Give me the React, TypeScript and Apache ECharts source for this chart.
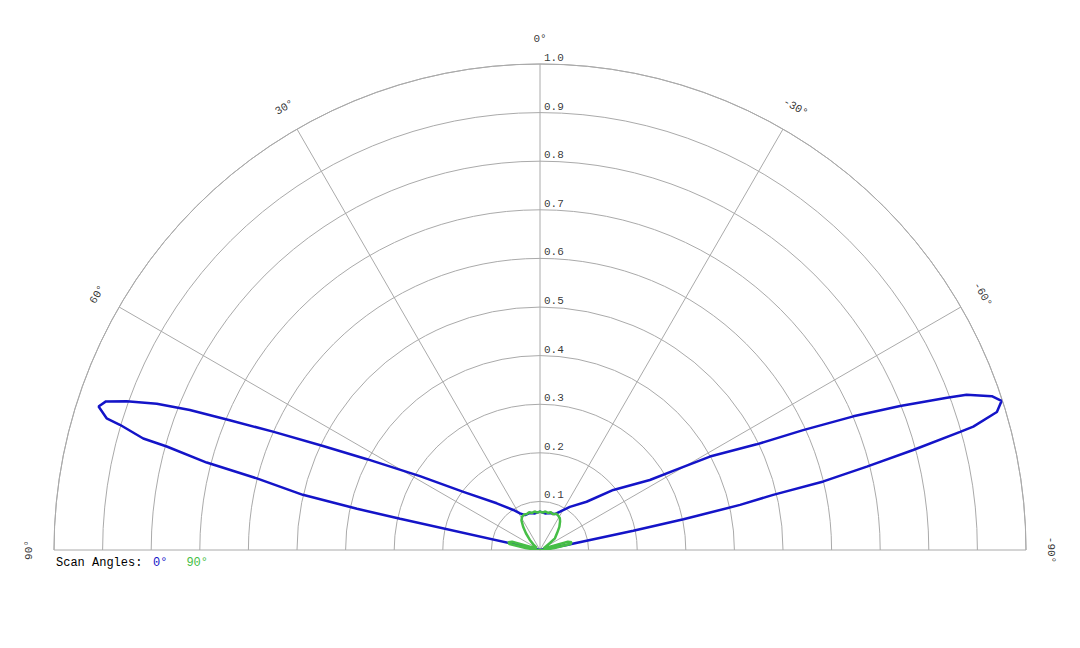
import * as echarts from 'echarts';
import React, { useEffect, useRef } from 'react';

// scan angle 0° (blue) : polar angle in degrees (positive = left) and normalised gain
const scan0Angles = [
  -90, -80, -79.4, -78.3, -77.9, -77.3, -76.7, -76.4, -75.7, -75.0, -74.3, -74.1, -73.2,
  -72.1, -71.2, -70.0, -69.5, -68.2, -66.9, -65.5, -64.0, -61.2, -59.7, -57.5, -50.7,
  -44.0, -34.7, -27.6, -22.6, -15, -7.8, 0, 7.8, 15, 23.2, 28.6, 33.7, 42.8, 52.8, 58.4,
  62.3, 64.4, 66.1, 67.3, 68.2, 69.1, 70.2, 71.1, 72.0, 73.1, 73.4, 74.3, 74.5, 75.3,
  75.8, 76.9, 77.3, 77.4, 78, 90,
];
const scan0Values = [
  0, 0, 0.056, 0.196, 0.302, 0.422, 0.493, 0.6, 0.694, 0.795, 0.898, 0.927, 0.982, 0.998,
  0.982, 0.934, 0.894, 0.798, 0.701, 0.595, 0.496, 0.399, 0.334, 0.268, 0.195, 0.138,
  0.108, 0.089, 0.08, 0.079, 0.076, 0.079, 0.076, 0.079, 0.078, 0.086, 0.099, 0.131,
  0.198, 0.29, 0.402, 0.495, 0.601, 0.692, 0.776, 0.844, 0.904, 0.944, 0.955, 0.932,
  0.902, 0.848, 0.797, 0.709, 0.601, 0.501, 0.386, 0.295, 0, 0,
];

// scan angle 90° (green)
const scan90Angles = [
  -90, -86, -82, -79, -76, -73.5, -71, -66, -60, -55, -52, -45, -40, -35, -32, -28, -24,
  -20, -16, -12, -8, -4, 0, 4, 8, 12, 16, 20, 24, 28, 32, 36, 40, 45, 50, 56, 62, 66, 71,
  73.5, 76, 79, 82, 86, 90,
];
const scan90Values = [
  0, 0.01, 0.03, 0.064, 0.067, 0.06, 0.02, 0.008, 0.008, 0.025, 0.039, 0.05, 0.062, 0.072,
  0.077, 0.08, 0.082, 0.078, 0.081, 0.078, 0.08, 0.077, 0.079, 0.077, 0.08, 0.078, 0.081,
  0.079, 0.08, 0.078, 0.072, 0.059, 0.045, 0.03, 0.018, 0.008, 0.008, 0.008, 0.02, 0.06,
  0.067, 0.064, 0.03, 0.01, 0,
];

const radiusTicks = [0.1, 0.2, 0.3, 0.4, 0.5, 0.6, 0.7, 0.8, 0.9, 1.0];
const angleTicks = [-90, -60, -30, 0, 30, 60, 90];

const BLUE = '#1414c8';
const GREEN = '#46be46';
const GRID = '#aaaaaa';
const FONT = '"Liberation Mono", "DejaVu Sans Mono", monospace';

export default function App() {
  const chartRef = useRef<HTMLDivElement>(null);

  useEffect(() => {
    if (!chartRef.current) return;
    const chart = echarts.init(chartRef.current, null, { renderer: 'svg' });

    const hiddenAxis = {
      axisLine: { show: false },
      axisTick: { show: false },
      axisLabel: { show: false },
      splitLine: { show: false },
    };

    const tickLabel = {
      show: true,
      fontFamily: FONT,
      fontSize: 11,
      color: '#000000',
      textBorderWidth: 0,
    };

    const option = {
      animation: false,
      backgroundColor: '#ffffff',
      polar: [
        { center: [540, 550], radius: 486 },
        { center: [540, 550], radius: 511 },
      ],
      angleAxis: [
        {
          polarIndex: 0,
          type: 'value',
          min: -90,
          max: 90,
          interval: 30,
          startAngle: 0,
          endAngle: 180,
          clockwise: false,
          axisLine: { show: true, lineStyle: { color: GRID, width: 1 } },
          axisTick: { show: false },
          axisLabel: { show: false },
          splitLine: { show: true, lineStyle: { color: GRID, width: 1 } },
        },
        {
          polarIndex: 1,
          type: 'value',
          min: -90,
          max: 90,
          interval: 30,
          startAngle: 0,
          endAngle: 180,
          clockwise: false,
          ...hiddenAxis,
        },
      ],
      radiusAxis: [
        {
          polarIndex: 0,
          min: 0,
          max: 1,
          interval: 0.1,
          axisLine: { show: false },
          axisTick: { show: false },
          axisLabel: { show: false },
          splitLine: { show: true, lineStyle: { color: GRID, width: 1 } },
        },
        { polarIndex: 1, min: 0, max: 1, ...hiddenAxis },
      ],
      legend: {
        left: 143,
        top: 552,
        icon: 'none',
        itemWidth: 0,
        itemHeight: 0,
        itemGap: 14,
        textStyle: { fontFamily: FONT, fontSize: 12 },
        data: [
          { name: '0°', textStyle: { color: BLUE } },
          { name: '90°', textStyle: { color: GREEN } },
        ],
      },
      graphic: [
        {
          type: 'text',
          left: 56,
          top: 557,
          style: { text: 'Scan Angles:', fill: '#000', font: `12px ${FONT}` },
        },
      ],
      series: [
        {
          name: '0°',
          type: 'line',
          coordinateSystem: 'polar',
          polarIndex: 0,
          symbol: 'none',
          data: scan0Angles.map((a, i) => [scan0Values[i], a]),
          lineStyle: { color: BLUE, width: 2.5 },
          itemStyle: { color: BLUE },
        },
        {
          name: '90°',
          type: 'line',
          coordinateSystem: 'polar',
          polarIndex: 0,
          symbol: 'none',
          data: scan90Angles.map((a, i) => [scan90Values[i], a]),
          lineStyle: { color: GREEN, width: 2.5 },
          itemStyle: { color: GREEN },
        },
        {
          // radial tick labels along the 0° spoke
          type: 'scatter',
          coordinateSystem: 'polar',
          polarIndex: 0,
          symbolSize: 0,
          silent: true,
          itemStyle: { color: '#000' },
          data: radiusTicks.map((r) => [r, 0]),
          label: {
            ...tickLabel,
            position: [4, -6],
            align: 'left',
            verticalAlign: 'middle',
            formatter: (p: any) => p.value[0].toFixed(1),
          },
        },
        {
          // angle labels round the outer arc
          type: 'scatter',
          coordinateSystem: 'polar',
          polarIndex: 1,
          symbolSize: 0,
          silent: true,
          itemStyle: { color: '#000' },
          data: angleTicks.map((a) => ({ value: [1, a], label: { rotate: a } })),
          label: {
            ...tickLabel,
            position: [0, 0],
            align: 'center',
            verticalAlign: 'middle',
            formatter: (p: any) => `${p.value[1]}°`,
          },
        },
      ],
    };

    chart.setOption(option);

    return () => {
      chart.dispose();
    };
  }, []);

  return (
    <div
      ref={chartRef}
      style={{ position: 'fixed', left: 0, top: 0, width: 1080, height: 648, background: '#fff' }}
    />
  );
}
